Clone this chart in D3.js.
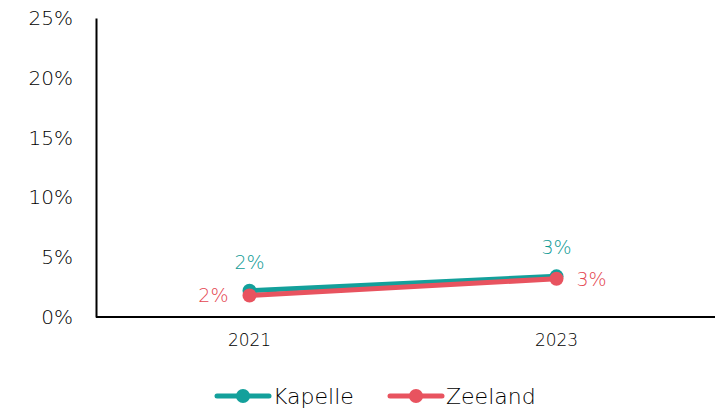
<!DOCTYPE html>
<html>
<head>
<meta charset="utf-8">
<script src="https://cdn.jsdelivr.net/npm/d3@7"></script>
<style>
  body { margin: 0; background: #fff; }
  text { font-family: "DejaVu Sans", Lato, sans-serif; }
</style>
</head>
<body>
<div id="chart"></div>
<script>
// data
var years = ["2021", "2023"];
var kapelle = [0.022, 0.034];
var zeeland = [0.018, 0.032];
var yTicks = [0, 0.05, 0.10, 0.15, 0.20, 0.25];

var width = 715, height = 408;
var plotLeft = 96, plotRight = 710, plotTop = 18, plotBottom = 317;

var svg = d3.select('#chart').append('svg')
    .attr('width', width).attr('height', height);

var x = d3.scaleBand().domain(years).range([plotLeft, plotRight]);
var y = d3.scaleLinear().domain([0, 0.25]).range([plotBottom, plotTop]);

// y axis
var yAxis = d3.axisLeft(y).tickValues(yTicks).tickSize(0).tickPadding(23)
    .tickFormat(d3.format('.0%'));
var gy = svg.append('g').attr('transform', 'translate(' + plotLeft + ',0)').call(yAxis);
gy.select('.domain').attr('stroke', '#000').attr('stroke-width', 2);
gy.selectAll('text').attr('font-size', 20).attr('font-weight', 300).attr('fill', '#000');

// x axis
var xAxis = d3.axisBottom(x).tickSize(0).tickPadding(17);
var gx = svg.append('g').attr('transform', 'translate(0,' + plotBottom + ')').call(xAxis);
gx.select('.domain').attr('stroke', '#000').attr('stroke-width', 2)
    .attr('d', 'M' + plotLeft + ',0H' + width);
gx.selectAll('text').attr('font-size', 17).attr('font-weight', 300).attr('fill', '#000');

var series = [
  { name: 'Kapelle', values: kapelle, color: '#13a09b' },
  { name: 'Zeeland', values: zeeland, color: '#e8535f' }
];

function cx(i) { return x(years[i]) + x.bandwidth() / 2; }

var line = d3.line()
    .x(function(d, i) { return cx(i); })
    .y(function(d) { return y(d); });

series.forEach(function(s) {
  svg.append('path').datum(s.values)
      .attr('d', line)
      .attr('fill', 'none')
      .attr('stroke', s.color)
      .attr('stroke-width', 5)
      .attr('stroke-linecap', 'round');
  svg.selectAll(null).data(s.values).enter().append('circle')
      .attr('cx', function(d, i) { return cx(i); })
      .attr('cy', function(d) { return y(d); })
      .attr('r', 7)
      .attr('fill', s.color);
});

// data labels
var fmt = d3.format('.0%');
kapelle.forEach(function(v, i) {
  svg.append('text')
      .attr('x', cx(i)).attr('y', y(v) - 22)
      .attr('text-anchor', 'middle')
      .attr('font-size', 19).attr('font-weight', 300).attr('fill', '#0f9a95')
      .text(fmt(v));
});
zeeland.forEach(function(v, i) {
  var t = svg.append('text')
      .attr('y', y(v) + 7)
      .attr('font-size', 19).attr('font-weight', 300).attr('fill', '#e4454f')
      .text(fmt(v));
  if (i === 0) t.attr('x', cx(i) - 21).attr('text-anchor', 'end');
  else t.attr('x', cx(i) + 20).attr('text-anchor', 'start');
});

// legend
var lx = [215, 388];
series.forEach(function(s, i) {
  var g = svg.append('g').attr('transform', 'translate(' + lx[i] + ',396)');
  g.append('line').attr('x1', 2).attr('x2', 54).attr('y1', 0).attr('y2', 0)
      .attr('stroke', s.color).attr('stroke-width', 5).attr('stroke-linecap', 'round');
  g.append('circle').attr('cx', 28).attr('cy', 0).attr('r', 7).attr('fill', s.color);
  g.append('text').attr('x', 58).attr('y', 8).attr('font-size', 22).attr('font-weight', 300).attr('fill', '#000')
      .text(s.name);
});
</script>
</body>
</html>
